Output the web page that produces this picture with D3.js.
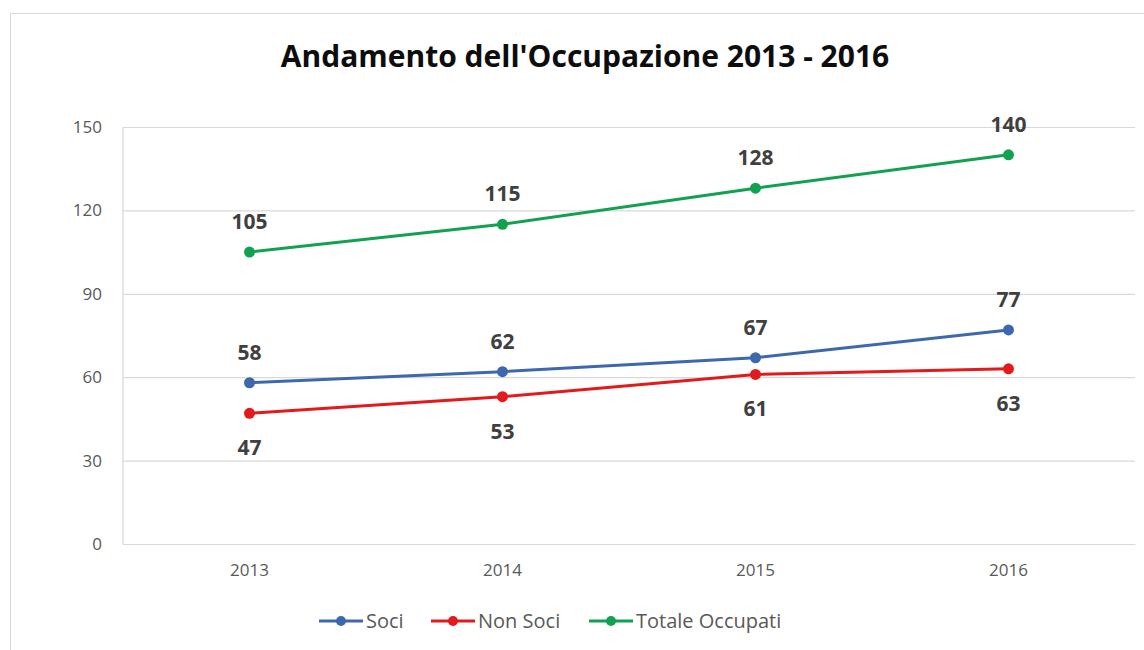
<!DOCTYPE html>
<html>
<head>
<meta charset="utf-8">
<script src="https://cdn.jsdelivr.net/npm/d3@7"></script>
<style>
  body { margin: 0; background: #fff; }
  text { font-family: "Open Sans", "Liberation Sans", sans-serif; }
</style>
</head>
<body>
<script>
// data
const years = ["2013", "2014", "2015", "2016"];
const soci = [58, 62, 67, 77];
const nonSoci = [47, 53, 61, 63];
const totale = [105, 115, 128, 140];
const yTicks = [0, 30, 60, 90, 120, 150];
const seriesNames = ["Soci", "Non Soci", "Totale Occupati"];

const width = 1144;
const height = 650;
const marginTop = 127;
const marginRight = 9;
const marginBottom = 106;
const marginLeft = 123;

const series = [
  { name: seriesNames[0], values: soci, color: "#3E68AE", labelPos: "above" },
  { name: seriesNames[1], values: nonSoci, color: "#E31A1C", labelPos: "below" },
  { name: seriesNames[2], values: totale, color: "#12A150", labelPos: "above" }
];

const svg = d3.select("body")
  .append("svg")
    .attr("width", width)
    .attr("height", height)
    .attr("viewBox", [0, 0, width, height]);

// chart frame
svg.append("rect")
    .attr("x", 10.5)
    .attr("y", 13.5)
    .attr("width", width)
    .attr("height", height)
    .attr("fill", "#fff")
    .attr("stroke", "#d9d9d9");

const x = d3.scaleBand()
    .domain(years)
    .range([marginLeft, width - marginRight]);

const y = d3.scaleLinear()
    .domain([0, 150])
    .range([height - marginBottom, marginTop]);

// gridlines + y labels
svg.append("g")
    .attr("transform", `translate(${marginLeft},0)`)
    .call(d3.axisLeft(y).tickValues(yTicks).tickSize(-(width - marginLeft - marginRight)).tickPadding(21))
    .call(g => g.select(".domain").remove())
    .call(g => g.selectAll(".tick line").attr("stroke", "#d9d9d9").attr("stroke-width", 1.2))
    .call(g => g.selectAll(".tick text")
        .attr("fill", "#595959")
        .attr("font-size", 17)
        .attr("font-family", "Open Sans, sans-serif"));

// left axis line
svg.append("line")
    .attr("x1", marginLeft).attr("x2", marginLeft)
    .attr("y1", y(150)).attr("y2", y(0))
    .attr("stroke", "#d9d9d9")
    .attr("stroke-width", 1.2);

// x axis
svg.append("g")
    .attr("transform", `translate(0,${height - marginBottom})`)
    .call(d3.axisBottom(x).tickSize(0).tickPadding(20))
    .call(g => g.select(".domain").attr("stroke", "#d9d9d9").attr("stroke-width", 1.2))
    .call(g => g.selectAll(".tick text")
        .attr("fill", "#595959")
        .attr("font-size", 17)
        .attr("font-family", "Open Sans, sans-serif"));

const cx = d => x(d) + x.bandwidth() / 2;

const line = d3.line()
    .x((d, i) => cx(years[i]))
    .y(d => y(d));

for (const s of series) {
  const g = svg.append("g");
  g.append("path")
      .attr("d", line(s.values))
      .attr("fill", "none")
      .attr("stroke", s.color)
      .attr("stroke-width", 3);
  g.selectAll("circle")
    .data(s.values)
    .join("circle")
      .attr("cx", (d, i) => cx(years[i]))
      .attr("cy", d => y(d))
      .attr("r", 5.5)
      .attr("fill", s.color);
  g.selectAll("text")
    .data(s.values)
    .join("text")
      .attr("x", (d, i) => cx(years[i]))
      .attr("y", d => y(d) + (s.labelPos === "above" ? -23 : 42))
      .attr("text-anchor", "middle")
      .attr("font-size", 21)
      .attr("font-weight", "bold")
      .attr("fill", "#404040")
      .text(d => d);
}

// title
svg.append("text")
    .attr("x", 585)
    .attr("y", 67)
    .attr("text-anchor", "middle")
    .attr("font-size", 30)
    .attr("font-weight", "bold")
    .attr("fill", "#0d0d0d")
    .text("Andamento dell'Occupazione 2013 - 2016");

// legend
const legendX = [319, 431, 589];
const legend = svg.append("g")
  .selectAll("g")
  .data(series)
  .join("g")
    .attr("transform", (d, i) => `translate(${legendX[i]},621)`);
legend.append("line")
    .attr("x1", 0).attr("x2", 44)
    .attr("stroke", d => d.color)
    .attr("stroke-width", 3);
legend.append("circle")
    .attr("cx", 22)
    .attr("r", 5)
    .attr("fill", d => d.color);
legend.append("text")
    .attr("x", 47)
    .attr("dy", "0.35em")
    .attr("font-size", 20)
    .attr("fill", "#595959")
    .text(d => d.name);
</script>
</body>
</html>
